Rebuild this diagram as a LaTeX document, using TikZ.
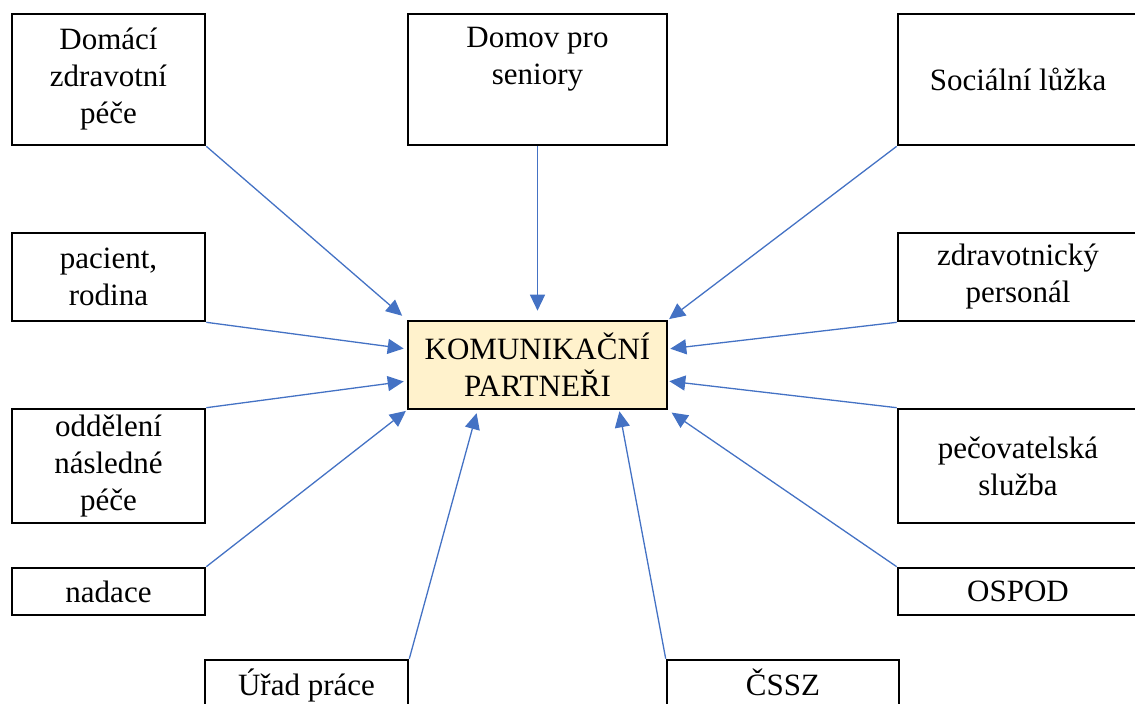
\documentclass[tikz,border=0pt]{standalone}
\usepackage{fontspec}
\setmainfont{Liberation Serif}
\usetikzlibrary{arrows.meta}
\definecolor{linkblue}{HTML}{4472C4}
\definecolor{hubfill}{HTML}{FFF2CC}

\begin{document}
\begin{tikzpicture}[x=1pt, y=-1pt,
		partner/.style={draw=black, line width=2.6pt, rectangle, align=center, inner sep=0pt,
			node font=\fontsize{31}{37}\selectfont},
		link/.style={draw=linkblue, line width=1.3pt, -{Triangle[length=16pt,width=15pt]}, shorten >=3pt}]
			%%%%% START %%%%%
			\useasboundingbox (0, 0) rectangle (1135, 704);
			
			% the hub
			\node[partner, fill=hubfill, minimum width=259, minimum height=88] (kom) at (537.5, 365) {KOMUNIKAČNÍ\\PARTNEŘI};
			
			% left column
			\node[partner, minimum width=193, minimum height=131] (dom) at (108.5, 79.5) {Domácí\\zdravotní\\péče};
			\node[partner, minimum width=193, minimum height=88] (pac) at (108.5, 277) {pacient,\\rodina};
			\node[partner, minimum width=193, minimum height=114] (odd) at (108.5, 466) {oddělení\\následné\\péče};
			\node[partner, minimum width=193, minimum height=47] (nad) at (108.5, 591.5) {nadace};
			
			% top and bottom
			\node[partner, minimum width=259, minimum height=131, text depth=47pt] (domov) at (537.5, 79.5) {Domov pro\\seniory};
			\node[partner, minimum width=203, minimum height=47, text depth=3pt] (urad) at (306.5, 683.5) {Úřad práce};
			\node[partner, minimum width=232, minimum height=47, text depth=3pt] (cssz) at (783, 683.5) {ČSSZ};
			
			% right column
			\node[partner, minimum width=240, minimum height=131] (soc) at (1018, 79.5) {Sociální lůžka};
			\node[partner, minimum width=240, minimum height=88] (zdr) at (1018, 277) {zdravotnický\\personál};
			\node[partner, minimum width=240, minimum height=114] (pec) at (1018, 466) {pečovatelská\\služba};
			\node[partner, minimum width=240, minimum height=47] (osp) at (1018, 591.5) {OSPOD};
			
			% arrows into the hub
			\draw[link, shorten >=6pt] (dom.south east) -- (kom.north west);
			\draw[link, shorten >=9pt] (domov.south) -- (kom.north);
			\draw[link, shorten >=1pt] (soc.south west) -- (kom.north east);
			\draw[link] (pac.south east) -- (kom.173);
			\draw[link] (odd.north east) -- (kom.187);
			\draw[link, shorten >=1pt] (nad.north east) -- (kom.south west);
			\draw[link] (urad.north east) -- (kom.217);
			\draw[link, shorten >=1pt] (cssz.north west) -- (kom.331);
			\draw[link, shorten >=4pt] (osp.north west) -- (kom.south east);
			\draw[link, shorten >=1pt] (pec.north west) -- (kom.353);
			\draw[link, shorten >=2pt] (zdr.south west) -- (kom.7);
			
			%%%%% END %%%%%
\end{tikzpicture}
\end{document}
